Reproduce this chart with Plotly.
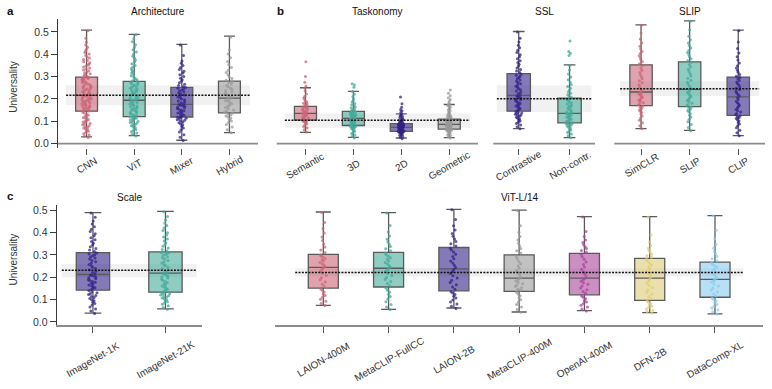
import plotly.graph_objects as go

W, H = 772, 389

# ---------------- colours (Tol muted-like palette) ----------------
ROSE, TEAL, INDIGO, GRAY = "#CC6677", "#44AA99", "#332288", "#999999"
PURPLE, SAND, CYAN = "#AA4499", "#DDCC77", "#88CCEE"

# ---------------- panel a : Architecture ----------------
arch_cats = ["CNN", "ViT", "Mixer", "Hybrid"]
arch_lo = [0.030, 0.036, 0.015, 0.049]
arch_q1 = [0.145, 0.121, 0.119, 0.138]
arch_med = [0.216, 0.194, 0.176, 0.204]
arch_q3 = [0.298, 0.279, 0.252, 0.280]
arch_hi = [0.508, 0.489, 0.444, 0.481]
arch_mean = 0.216
arch_band = [0.172, 0.261]

pts_cnn = [27, 33, 39, 44, 50, 55, 58, 62, 66, 70, 73, 77, 80, 84, 87, 90, 94, 97, 100, 103, 107, 110, 113, 117, 121, 124, 128, 132, 137, 141,
           146, 148, 151, 153, 155, 158, 160, 163, 165, 167, 170, 172, 174, 177, 179, 182, 184, 186, 189, 191, 193, 196, 198, 200, 203, 205, 208, 210, 212, 215,
           218, 221, 224, 226, 229, 232, 235, 238, 241, 244, 247, 249, 252, 255, 258, 261, 264, 267, 270, 272, 275, 278, 281, 284, 286, 289, 291, 293, 295, 297,
           301, 305, 309, 313, 317, 321, 326, 330, 334, 339, 343, 348, 352, 357, 362, 367, 372, 377, 383, 389, 395, 401, 408, 415, 423, 432, 442, 455, 472, 505]
pts_vit = [34, 41, 47, 53, 58, 63, 68, 72, 76, 80, 84, 87, 91, 94, 97, 100, 103, 106, 109, 111, 113, 115, 117, 119, 120,
           123, 126, 129, 132, 135, 138, 141, 144, 147, 150, 153, 156, 159, 162, 165, 168, 171, 174, 177, 180, 183, 186, 189, 191, 193,
           196, 199, 203, 206, 210, 213, 217, 220, 224, 227, 231, 234, 238, 241, 245, 248, 252, 255, 259, 262, 266, 269, 272, 275, 278,
           282, 287, 292, 298, 304, 310, 316, 322, 329, 336, 343, 350, 358, 366, 374, 382, 391, 400, 410, 420, 431, 443, 456, 470, 487]
pts_mixer = [14, 28, 40, 52, 62, 70, 77, 83, 88, 93, 97, 101, 104, 107, 110, 113, 116, 118,
             121, 124, 127, 131, 134, 137, 141, 144, 147, 151, 154, 157, 161, 164, 167, 170, 172, 175,
             178, 183, 187, 191, 196, 200, 205, 209, 214, 218, 223, 227, 232, 236, 240, 244, 248, 251,
             255, 260, 266, 272, 279, 286, 293, 300, 308, 316, 324, 332, 341, 350, 360, 370, 395, 442]
pts_hybrid = [48, 62, 74, 85, 94, 101, 108, 114, 119, 124, 128, 132, 136,
              141, 146, 151, 157, 162, 167, 172, 178, 183, 188, 193, 198, 202,
              207, 213, 219, 225, 231, 237, 243, 249, 255, 261, 267, 273, 278,
              284, 291, 299, 308, 318, 329, 341, 354, 368, 384, 401, 420, 476]

# ---------------- panel b : Taskonomy ----------------
task_cats = ["Semantic", "3D", "2D", "Geometric"]
task_lo = [0.050, 0.028, 0.025, 0.027]
task_q1 = [0.105, 0.081, 0.055, 0.065]
task_med = [0.135, 0.113, 0.073, 0.086]
task_q3 = [0.167, 0.144, 0.089, 0.110]
task_hi = [0.250, 0.234, 0.133, 0.175]
task_mean = 0.104
task_band = [0.071, 0.135]

pts_semantic = [52, 62, 70, 77, 83, 88, 92, 95, 98, 100, 102, 104,
                107, 109, 112, 115, 118, 120, 123, 125, 128, 130, 132, 134,
                137, 140, 142, 145, 148, 150, 153, 156, 158, 161, 163, 165,
                169, 173, 177, 181, 186, 191, 197, 204, 212, 222, 236, 249, 258, 275, 300, 367]
pts_3d = [25, 32, 38, 44, 49, 54, 58, 62, 65, 68, 71, 73, 75, 77, 79, 80,
          83, 85, 87, 89, 91, 93, 95, 97, 99, 101, 103, 105, 107, 109, 111, 112,
          115, 117, 119, 121, 123, 125, 127, 129, 131, 133, 135, 137, 139, 141, 142, 143,
          146, 149, 152, 156, 160, 164, 169, 174, 180, 186, 193, 201, 210, 221, 233, 252, 262, 268]
pts_2d = [22, 28, 33, 37, 40, 43, 45, 47, 48, 50, 51, 52, 53, 54, 55,
          56, 57, 58, 59, 61, 62, 63, 64, 65, 66, 67, 68, 70, 71, 72,
          74, 75, 76, 77, 78, 79, 80, 81, 82, 83, 84, 85, 86, 87, 88,
          90, 92, 94, 96, 98, 100, 103, 106, 109, 113, 117, 121, 125, 129, 132,
          140, 146, 153, 163, 178, 209]
pts_geometric = [25, 31, 36, 40, 44, 47, 50, 52, 54, 56, 58, 59, 60, 61, 62, 63, 64,
                 66, 67, 69, 70, 72, 73, 75, 76, 77, 78, 79, 80, 81, 82, 83, 84, 85,
                 87, 88, 90, 91, 93, 94, 96, 97, 99, 100, 102, 103, 105, 106, 107, 108, 109,
                 112, 114, 117, 120, 123, 126, 130, 134, 138, 142, 147, 152, 158, 164, 170, 175, 174,
                 182, 190, 197, 205, 214, 225, 240]

# ---------------- SSL ----------------
ssl_cats = ["Contrastive", "Non-contr."]
ssl_lo = [0.067, 0.027]
ssl_q1 = [0.145, 0.093]
ssl_med = [0.216, 0.135]
ssl_q3 = [0.313, 0.204]
ssl_hi = [0.502, 0.353]
ssl_mean = 0.201
ssl_band = [0.142, 0.261]

pts_contrastive = [66, 75, 83, 90, 96, 101, 106, 110, 114, 118, 122, 125, 128, 131, 134, 137, 140, 143,
                   148, 152, 156, 160, 164, 168, 172, 176, 180, 184, 188, 192, 196, 200, 204, 208, 211, 214,
                   219, 224, 230, 235, 241, 246, 252, 257, 263, 268, 274, 279, 285, 290, 296, 301, 306, 311,
                   318, 325, 332, 339, 347, 355, 363, 371, 380, 389, 398, 408, 418, 429, 441, 455, 472, 500]
pts_noncontr = [26, 35, 43, 50, 56, 61, 66, 70, 74, 78, 81, 84, 87, 89, 91,
                95, 97, 100, 103, 106, 109, 112, 115, 118, 121, 124, 127, 130, 132, 134,
                138, 142, 146, 150, 155, 159, 164, 168, 173, 177, 182, 186, 191, 196, 201,
                208, 213, 219, 225, 232, 240, 248, 256, 265, 275, 286, 298, 312, 330, 350,
                395, 405, 412, 460]

# ---------------- SLIP ----------------
slip_cats = ["SimCLR", "SLIP", "CLIP"]
slip_lo = [0.067, 0.059, 0.036]
slip_q1 = [0.170, 0.166, 0.126]
slip_med = [0.231, 0.243, 0.209]
slip_q3 = [0.353, 0.366, 0.298]
slip_hi = [0.532, 0.550, 0.508]
slip_mean = 0.246
slip_band = [0.213, 0.279]

pts_simclr = [66, 80, 93, 105, 115, 124, 132, 139, 145, 151, 157, 162, 167,
              173, 178, 183, 188, 193, 198, 203, 208, 213, 218, 222, 226, 229,
              236, 245, 254, 263, 272, 281, 290, 299, 308, 318, 328, 338, 349,
              358, 366, 375, 384, 393, 403, 413, 424, 436, 450, 468, 495, 530]
pts_slip = [58, 72, 86, 98, 109, 118, 127, 134, 141, 148, 154, 160, 164,
            169, 175, 181, 187, 193, 199, 205, 211, 217, 223, 229, 235, 240,
            248, 257, 266, 275, 284, 293, 303, 313, 323, 333, 343, 353, 363,
            371, 380, 389, 398, 408, 418, 428, 439, 451, 465, 481, 510, 548]
pts_clip = [35, 48, 60, 71, 80, 88, 95, 101, 107, 112, 116, 120, 124,
            129, 135, 141, 147, 153, 159, 165, 171, 177, 183, 190, 197, 205,
            213, 220, 227, 234, 241, 248, 255, 262, 269, 276, 283, 290, 296,
            302, 310, 319, 328, 338, 349, 361, 374, 389, 406, 426, 455, 505]

# ---------------- panel c : Scale ----------------
scale_cats = ["ImageNet-1K", "ImageNet-21K"]
scale_lo = [0.039, 0.058]
scale_q1 = [0.142, 0.133]
scale_med = [0.212, 0.218]
scale_q3 = [0.310, 0.313]
scale_hi = [0.489, 0.495]
scale_mean = 0.231
scale_band = [0.200, 0.259]

pts_in1k = [37, 48, 58, 67, 75, 82, 88, 94, 99, 104, 109, 114, 118, 122, 126, 130, 134, 139,
            145, 149, 153, 157, 161, 165, 169, 173, 177, 181, 185, 189, 193, 197, 201, 205, 208, 210,
            215, 221, 227, 233, 239, 245, 251, 257, 263, 269, 275, 281, 286, 291, 296, 300, 304, 308,
            315, 322, 329, 336, 344, 352, 360, 368, 377, 386, 395, 405, 415, 426, 438, 452, 468, 487]
pts_in21k = [56, 64, 72, 79, 85, 90, 95, 99, 103, 107, 111, 114, 117, 120, 123, 126, 129, 131,
             136, 141, 146, 151, 156, 161, 166, 171, 176, 181, 186, 191, 196, 201, 205, 209, 213, 216,
             221, 227, 233, 239, 245, 251, 257, 263, 269, 275, 281, 287, 292, 297, 302, 306, 309, 311,
             317, 324, 331, 338, 346, 354, 362, 371, 380, 389, 399, 409, 420, 431, 443, 456, 472, 493]

# ---------------- ViT-L/14 ----------------
vitl_cats = ["LAION-400M", "MetaCLIP-FullCC", "LAION-2B", "MetaCLIP-400M", "OpenAI-400M", "DFN-2B", "DataComp-XL"]
vitl_lo = [0.074, 0.056, 0.062, 0.044, 0.050, 0.041, 0.036]
vitl_q1 = [0.151, 0.156, 0.139, 0.136, 0.121, 0.096, 0.110]
vitl_med = [0.244, 0.240, 0.237, 0.196, 0.196, 0.196, 0.190]
vitl_q3 = [0.302, 0.311, 0.333, 0.300, 0.307, 0.284, 0.267]
vitl_hi = [0.492, 0.489, 0.504, 0.500, 0.471, 0.471, 0.476]
vitl_mean = 0.221
vitl_band = [0.203, 0.240]

pts_laion400m = [73, 82, 92, 101, 110, 118, 126, 134, 141, 147, 158, 168, 178, 188, 198, 208, 218, 228, 236, 241,
                 248, 254, 260, 266, 272, 278, 284, 290, 295, 299, 310, 322, 335, 349, 364, 380, 398, 418, 445, 490]
pts_metafullcc = [55, 66, 78, 90, 102, 113, 123, 133, 142, 150, 162, 172, 181, 190, 199, 208, 217, 226, 233, 238,
                  245, 252, 259, 266, 273, 280, 287, 294, 301, 308, 318, 327, 337, 347, 358, 370, 384, 402, 432, 488]
pts_laion2b = [60, 70, 80, 89, 98, 107, 115, 122, 129, 135, 146, 156, 166, 176, 186, 196, 206, 216, 226, 234,
               243, 253, 263, 273, 283, 293, 303, 313, 322, 330, 340, 350, 360, 371, 383, 396, 411, 430, 458, 502]
pts_meta400m = [43, 55, 67, 78, 89, 99, 108, 117, 125, 132, 141, 147, 153, 159, 165, 171, 177, 183, 189, 194,
                200, 210, 220, 230, 240, 250, 260, 270, 281, 292, 308, 318, 329, 340, 352, 366, 382, 401, 430, 498]
pts_openai = [49, 58, 66, 74, 82, 89, 96, 103, 110, 116, 128, 136, 144, 152, 160, 168, 175, 182, 188, 193,
              202, 213, 224, 235, 246, 257, 268, 280, 292, 303, 313, 320, 328, 336, 345, 355, 367, 382, 405, 469]
pts_dfn = [40, 46, 52, 58, 64, 70, 76, 82, 88, 93, 103, 113, 123, 133, 143, 153, 163, 173, 183, 191,
           201, 210, 219, 228, 237, 246, 255, 264, 272, 280, 289, 296, 303, 311, 320, 330, 342, 358, 390, 470]
pts_datacomp = [35, 44, 53, 62, 70, 78, 86, 93, 100, 106, 116, 125, 134, 143, 152, 161, 170, 178, 184, 188,
                196, 204, 212, 220, 228, 236, 244, 251, 258, 264, 274, 283, 293, 304, 316, 330, 348, 372, 410, 475]

# ---------------- layout geometry (pixels) ----------------
def pxx(p):
    return p / W


def pxy(p):
    return 1 - p / H


rows = {
    1: dict(dom=(pxy(148.2), pxy(17.7)), rng=[-0.02, 0.56], title_y=pxy(11), label_y=pxy(165.5),
            ytitle_y=pxy(87), baseline=True),
    2: dict(dom=(pxy(326.7), pxy(205.2)), rng=[-0.015, 0.525], title_y=pxy(198.5), label_y=pxy(361),
            ytitle_y=pxy(261), baseline=False),
}

panels = [
    dict(title="Architecture", cats=arch_cats, lo=arch_lo, q1=arch_q1, med=arch_med, q3=arch_q3, hi=arch_hi,
         pts=[pts_cnn, pts_vit, pts_mixer, pts_hybrid], colors=[ROSE, TEAL, INDIGO, GRAY],
         mean=arch_mean, band=arch_band, dom=(58, 258), row=1, rng=[-0.6, 3.6], showy=True, jit=0.45,
         letter=("a", 10.5)),
    dict(title="Taskonomy", cats=task_cats, lo=task_lo, q1=task_q1, med=task_med, q3=task_q3, hi=task_hi,
         pts=[pts_semantic, pts_3d, pts_2d, pts_geometric], colors=[ROSE, TEAL, INDIGO, GRAY],
         mean=task_mean, band=task_band, dom=(276.7, 478), row=1, rng=[-0.6, 3.6], showy=False, jit=0.3,
         letter=("b", 280)),
    dict(title="SSL", cats=ssl_cats, lo=ssl_lo, q1=ssl_q1, med=ssl_med, q3=ssl_q3, hi=ssl_hi,
         pts=[pts_contrastive, pts_noncontr], colors=[INDIGO, TEAL],
         mean=ssl_mean, band=ssl_band, dom=(493.3, 595), row=1, rng=[-0.5, 1.5], showy=False, jit=0.3,
         letter=None),
    dict(title="SLIP", cats=slip_cats, lo=slip_lo, q1=slip_q1, med=slip_med, q3=slip_q3, hi=slip_hi,
         pts=[pts_simclr, pts_slip, pts_clip], colors=[ROSE, TEAL, INDIGO],
         mean=slip_mean, band=slip_band, dom=(614.3, 765), row=1, rng=[-0.55, 2.55], showy=False, jit=0.25,
         letter=None),
    dict(title="Scale", cats=scale_cats, lo=scale_lo, q1=scale_q1, med=scale_med, q3=scale_q3, hi=scale_hi,
         pts=[pts_in1k, pts_in21k], colors=[INDIGO, TEAL],
         mean=scale_mean, band=scale_band, dom=(56.7, 201.7), row=2, rng=[-0.5, 1.5], showy=True, jit=0.3,
         letter=("c", 10.5)),
    dict(title="ViT-L/14", cats=vitl_cats, lo=vitl_lo, q1=vitl_q1, med=vitl_med, q3=vitl_q3, hi=vitl_hi,
         pts=[pts_laion400m, pts_metafullcc, pts_laion2b, pts_meta400m, pts_openai, pts_dfn, pts_datacomp],
         colors=[ROSE, TEAL, INDIGO, GRAY, PURPLE, SAND, CYAN],
         mean=vitl_mean, band=vitl_band, dom=(275, 763.3), row=2, rng=[-0.74, 6.74], showy=False, jit=0.27,
         letter=None),
]


def rgba(hexc, a):
    h = hexc.lstrip("#")
    r, g, b = int(h[0:2], 16), int(h[2:4], 16), int(h[4:6], 16)
    return f"rgba({r},{g},{b},{a})"


FONT = "Liberation Sans, Arial, Helvetica, sans-serif"
fig = go.Figure()
shapes, annotations = [], []
layout = {}
BOX_W = 0.46
EDGE = "#5a5a5a"

for i, p in enumerate(panels):
    k = "" if i == 0 else str(i + 1)
    xa, ya = "x" + k, "y" + k
    row = rows[p["row"]]
    n = len(p["cats"])

    # boxes from summary statistics
    for j, c in enumerate(p["cats"]):
        fig.add_trace(go.Box(
            x=[c], q1=[p["q1"][j]], median=[p["med"][j]], q3=[p["q3"][j]],
            lowerfence=[p["lo"][j]], upperfence=[p["hi"][j]],
            width=BOX_W, whiskerwidth=0.5, boxpoints=False,
            fillcolor=rgba(p["colors"][j], 0.6), line=dict(color=EDGE, width=1.3),
            xaxis=xa, yaxis=ya, showlegend=False, hoverinfo="skip"))
    # jittered points
    for j, c in enumerate(p["cats"]):
        vals = [v / 1000 for v in p["pts"][j]]
        fig.add_trace(go.Box(
            x=[c] * len(vals), y=vals, width=BOX_W, boxpoints="all", jitter=p["jit"], pointpos=0,
            fillcolor="rgba(0,0,0,0)", line=dict(color="rgba(0,0,0,0)", width=0),
            marker=dict(color=rgba(p["colors"][j], 0.75), size=3, line=dict(width=0)),
            xaxis=xa, yaxis=ya, showlegend=False, hoverinfo="skip"))

    layout["xaxis" + k] = dict(
        domain=[pxx(p["dom"][0]), pxx(p["dom"][1])], anchor=ya, type="category",
        categoryorder="array", categoryarray=p["cats"], range=p["rng"],
        showticklabels=False, ticks="outside", ticklen=6, tickwidth=1.2, tickcolor="#555",
        showgrid=False, zeroline=False,
        showline=not row["baseline"], linecolor="#8c8c8c", linewidth=1.8)
    ycfg = dict(domain=list(row["dom"]), anchor=xa, range=row["rng"], showgrid=False, zeroline=False)
    if p["showy"]:
        ycfg.update(showline=True, linecolor="#3a3a3a", linewidth=1.2, ticks="outside", ticklen=6,
                    tickwidth=1.2, tickcolor="#3a3a3a", tickvals=[0, 0.1, 0.2, 0.3, 0.4, 0.5],
                    tickformat=".1f", tickfont=dict(size=10.5, color="#333", family=FONT))
    else:
        ycfg.update(visible=False)
    layout["yaxis" + k] = ycfg

    # band and mean line
    shapes.append(dict(type="rect", xref=xa, yref=ya, x0=-0.43, x1=n - 1 + 0.43,
                       y0=p["band"][0], y1=p["band"][1], fillcolor="#f1f1f1",
                       line=dict(width=0), layer="below"))
    shapes.append(dict(type="line", xref=xa, yref=ya, x0=-0.43, x1=n - 1 + 0.43,
                       y0=p["mean"], y1=p["mean"], line=dict(color="#111", width=1.5, dash="2px,1.3px"),
                       layer="above"))
    if row["baseline"]:
        shapes.append(dict(type="line", xref=xa + " domain", yref=ya, x0=0, x1=1, y0=0, y1=0,
                           line=dict(color="#8c8c8c", width=1.8), layer="above"))

    # rotated category labels
    for c in p["cats"]:
        annotations.append(dict(x=c, xref=xa, y=row["label_y"], yref="paper", text=c, textangle=-30,
                                showarrow=False, xanchor="center", yanchor="middle",
                                font=dict(size=10, color="#333", family=FONT)))
    # panel title
    annotations.append(dict(x=pxx((p["dom"][0] + p["dom"][1]) / 2), y=row["title_y"], xref="paper",
                            yref="paper", text=p["title"], showarrow=False, xanchor="center",
                            yanchor="middle", font=dict(size=10, color="#111", family=FONT)))
    if p["letter"]:
        annotations.append(dict(x=pxx(p["letter"][1]), y=pxy(10.5 if p["row"] == 1 else 197),
                                xref="paper", yref="paper", text="<b>" + p["letter"][0] + "</b>",
                                showarrow=False, xanchor="center", yanchor="middle",
                                font=dict(size=11.5, color="#111", family=FONT)))
    if p["showy"]:
        annotations.append(dict(x=pxx(13.5), y=row["ytitle_y"], xref="paper", yref="paper",
                                text="Universality", textangle=-90, showarrow=False,
                                xanchor="center", yanchor="middle",
                                font=dict(size=10, color="#333", family=FONT)))

fig.update_layout(
    width=W, height=H, margin=dict(l=0, r=0, t=0, b=0),
    paper_bgcolor="white", plot_bgcolor="rgba(0,0,0,0)",
    boxmode="overlay", showlegend=False,
    font=dict(family=FONT, size=10, color="#333"),
    shapes=shapes, annotations=annotations, **layout)

fig.write_html("out.html")
